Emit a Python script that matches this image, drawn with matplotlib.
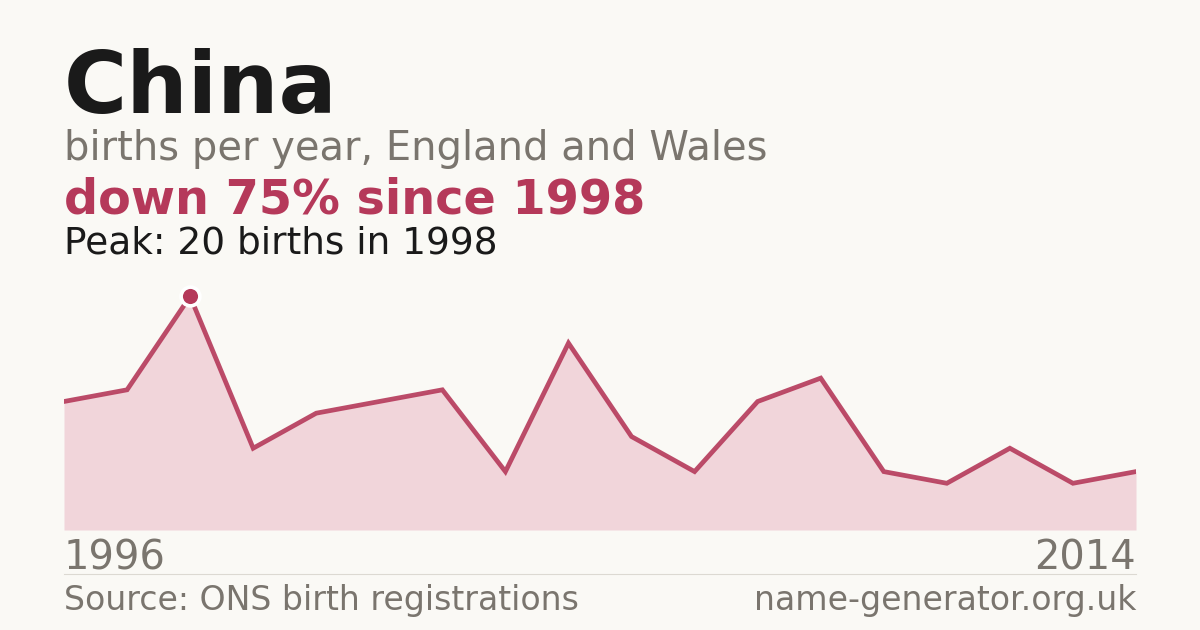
import numpy as np
import matplotlib
matplotlib.use("Agg")
import matplotlib.pyplot as plt

plt.rcParams["font.family"] = ["DejaVu Sans"]

# data
births = [11, 12, 20, 7, 10, 11, 12, 5, 16, 8, 5, 11, 13, 5, 4, 7, 4, 5]
first_label = "1996"
last_label = "2014"
peak_value = 20
peak_year = 1998

title = "China"
subtitle = "births per year, England and Wales"
headline = "down 75% since 1998"
peak_note = "Peak: %d births in %d" % (peak_value, peak_year)
source = "Source: ONS birth registrations"
site = "name-generator.org.uk"

BG = "#faf9f5"
RED = "#b5395a"
FILL = "#f1d5da"
GREY = "#7a756e"
INK = "#1a1a1a"

W, H = 1200, 630
fig = plt.figure(figsize=(12, 6.3), dpi=100, facecolor=BG)

def fx(px):
    return px / W

def fy(py):
    return 1 - py / H

# chart area in pixels: x 64..1136, y 273..530
ax = fig.add_axes([fx(64), fy(530), fx(1136 - 64), (530 - 273) / H])
ax.set_facecolor("none")
x = np.arange(len(births))
ax.fill_between(x, births, 0, color=FILL, linewidth=0)
ax.plot(x, births, color=RED, lw=3.4, alpha=0.9, solid_joinstyle="miter")
pk = int(np.argmax(births))
ax.plot(x[pk], births[pk], "o", ms=13.5, mfc=RED, mec="white", mew=2.6,
        clip_on=False, zorder=5)
ax.set_xlim(0, len(births) - 1)
ax.set_ylim(0, 22)
ax.axis("off")

# header text
fig.text(fx(64), fy(113), title, fontsize=62, fontweight="bold", color=INK, va="baseline")
fig.text(fx(64), fy(160), subtitle, fontsize=28.8, color=GREY, va="baseline")
fig.text(fx(64), fy(214), headline, fontsize=34.4, fontweight="bold", color=RED, va="baseline")
fig.text(fx(64), fy(254), peak_note, fontsize=27, color=INK, va="baseline")

# footer
fig.text(fx(64), fy(570), first_label, fontsize=28.8, color=GREY, va="baseline")
fig.text(fx(1136), fy(570), last_label, fontsize=28.8, color=GREY, va="baseline", ha="right")
fig.add_artist(plt.Line2D([fx(64), fx(1136)], [fy(574), fy(574)], color="#dcd9d2", lw=0.8))
fig.text(fx(64), fy(610), source, fontsize=23.9, color=GREY, va="baseline")
fig.text(fx(1136), fy(610), site, fontsize=23.9, color=GREY, va="baseline", ha="right")

fig.savefig("out.png", dpi=100, facecolor=BG)
